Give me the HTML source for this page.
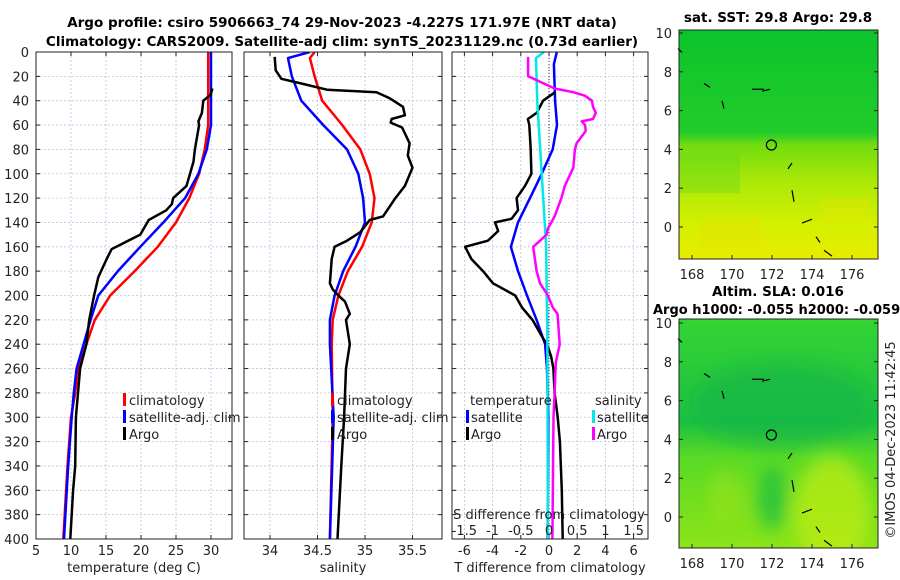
<!DOCTYPE html>
<html><head><meta charset="utf-8"><style>
html,body{margin:0;padding:0;background:#fff;}
svg{display:block;font-family:"DejaVu Sans","Liberation Sans",sans-serif;}
</style></head><body>
<svg id="fig" width="900" height="580" viewBox="0 0 900 580" xmlns="http://www.w3.org/2000/svg">
<defs>
<linearGradient id="sstGrad" x1="0" y1="0" x2="0" y2="1">
<stop offset="0" stop-color="#0cc42c"/><stop offset="0.45" stop-color="#22cc2a"/>
<stop offset="0.5" stop-color="#70dc10"/><stop offset="0.65" stop-color="#a8e808"/>
<stop offset="0.85" stop-color="#d4f000"/><stop offset="1" stop-color="#e8ec00"/></linearGradient>
<linearGradient id="slaGrad" x1="0" y1="0" x2="0" y2="1">
<stop offset="0" stop-color="#34d434"/><stop offset="0.45" stop-color="#1cc040"/>
<stop offset="0.6" stop-color="#58da26"/><stop offset="1" stop-color="#8ce418"/></linearGradient>
<filter id="blur"><feGaussianBlur stdDeviation="8"/></filter>
<clipPath id="c1"><rect x="36" y="52" width="196" height="487"/></clipPath>
<clipPath id="c2"><rect x="244" y="52" width="198" height="487"/></clipPath>
<clipPath id="c3"><rect x="452" y="52" width="196" height="487"/></clipPath>
<clipPath id="cm2"><rect x="679" y="319" width="199" height="229"/></clipPath>
</defs>
<g id="root"></g>
</svg>
<script>
// ---- data (depth in m) ----
const depthsClimT = [0,60,80,100,120,140,160,180,200,220,240,260,280,300,340,400];
const climTemp    = [29.6,29.6,29.1,28.3,26.9,25.0,22.4,19.1,15.6,13.4,12.2,11.0,10.6,10.0,9.5,8.9];
const satTemp     = [30.0,30.0,29.4,28.2,26.3,23.2,19.9,16.7,13.9,12.8,11.8,10.8,10.4,10.1,9.6,9.0];
const argoTDepths = [30,35,40,50,57,60,80,90,100,110,120,125,130,138,150,157,162,170,185,200,220,240,260,280,300,340,360,400];
const argoTemp    = [30.2,29.95,28.9,28.7,28.2,28.3,27.7,27.5,27.0,26.5,24.6,24.4,23.6,21.1,19.9,17.5,15.8,15.1,13.9,13.3,12.6,12.2,11.3,11.0,10.7,10.6,10.3,9.9];
const depthsS     = [0,5,20,40,60,80,100,120,140,160,180,200,220,240,300,400];
const climSal     = [34.47,34.42,34.47,34.55,34.76,34.95,35.05,35.10,35.07,34.97,34.82,34.72,34.66,34.65,34.66,34.63];
const satSal      = [34.42,34.19,34.23,34.33,34.56,34.81,34.93,34.98,35.00,34.90,34.77,34.68,34.63,34.63,34.67,34.63];
const argoSDepths = [4,15,22,27,31,33,38,45,52,55,58,62,75,85,95,110,120,135,138,148,155,160,170,190,195,200,205,215,220,240,260,300,340,400];
const argoSal     = [34.05,34.06,34.12,34.39,34.60,35.12,35.26,35.40,35.42,35.28,35.27,35.39,35.47,35.45,35.50,35.42,35.32,35.19,35.05,34.95,34.81,34.68,34.65,34.63,34.66,34.72,34.79,34.84,34.80,34.84,34.80,34.78,34.75,34.71];
const dDepthsSat  = [0,10,40,60,80,100,120,140,160,180,200,220,240,260,300,400];
const satTDiff    = [0.55,0.35,0.43,0.57,0.26,-0.52,-1.35,-2.2,-2.7,-2.2,-1.56,-0.88,-0.28,-0.14,-0.05,-0.1];
const argoTDDepths= [33,40,50,55,60,80,100,110,120,130,137,140,147,155,160,170,180,190,200,210,220,235,240,250,260,280,300,320,360,400];
const argoTDiff   = [0.43,-0.42,-0.87,-1.5,-1.4,-1.3,-1.25,-1.7,-2.3,-2.2,-2.65,-3.83,-3.6,-4.33,-5.95,-5.5,-4.68,-3.97,-2.4,-1.9,-1.17,-0.43,-0.14,0.15,0.31,0.4,0.62,0.77,0.91,0.97];
const dDepthsSS   = [0,5,40,100,160,200,220,400];
const satSDiff    = [-0.09,-0.23,-0.21,-0.13,-0.05,-0.04,-0.03,-0.02];
const argoSDDepths= [4,20,30,33,36,40,45,50,55,57,60,65,75,80,95,110,120,135,145,150,155,160,170,180,190,200,210,215,240,255,280,300,400];
const argoSDiff   = [-0.37,-0.37,0.1,0.43,0.64,0.76,0.78,0.83,0.78,0.58,0.64,0.65,0.49,0.46,0.43,0.28,0.22,0.1,-0.02,-0.04,-0.16,-0.28,-0.25,-0.22,-0.16,-0.02,0.07,0.15,0.19,0.12,0.1,0.08,0.06];
const depthTicks  = [0,20,40,60,80,100,120,140,160,180,200,220,240,260,280,300,320,340,360,380,400];
const tempTicks   = [5,10,15,20,25,30];
const salTicks    = [34,34.5,35,35.5];
const tdTicks     = [-6,-4,-2,0,2,4,6];
const sdTicks     = [-1.5,-1,-0.5,0,0.5,1,1.5];
const lonTicks    = [168,170,172,174,176];
const latTicks    = [0,2,4,6,8,10];
const argoLon = 171.97, argoLat = 4.227;

const NS="http://www.w3.org/2000/svg";
const root=document.getElementById('root');
function mk(tag,attrs,parent){const e=document.createElementNS(NS,tag);for(const k in attrs)e.setAttribute(k,attrs[k]);(parent||root).appendChild(e);return e;}
function txt(s,x,y,attrs,parent){const e=mk('text',Object.assign({x:x,y:y,'font-size':13,fill:'#222'},attrs||{}),parent);e.textContent=s;return e;}

const yD=d=>52+d*487/400;
const xT=t=>36+(t-5)*7;
const xS=s=>270+(s-34)*95;
const xTD=t=>549+t*14.1;
const xSD=s=>549+s*56.4;

function panel(name,x0,x1,xTicks,xf,label){
  const g=mk('g',{});
  
  
  mk('rect',{x:x0,y:52,width:x1-x0,height:487,fill:'#fff'},g);
  xTicks.forEach(v=>{const x=xf(v);if(x>x0+1&&x<x1-1)mk('line',{x1:x,x2:x,y1:52,y2:539,stroke:'#b8c4e4','stroke-width':0.8,'stroke-dasharray':'2,2'},g);});
  depthTicks.forEach(d=>{if(d>0&&d<400)mk('line',{x1:x0,x2:x1,y1:yD(d),y2:yD(d),stroke:'#b8c4e4','stroke-width':0.8,'stroke-dasharray':'2,2'},g);});
  depthTicks.forEach(d=>{mk('line',{x1:x0,x2:x0+4,y1:yD(d),y2:yD(d),stroke:'#222'},g);mk('line',{x1:x1-4,x2:x1,y1:yD(d),y2:yD(d),stroke:'#222'},g);});
  xTicks.forEach(v=>{const x=xf(v);mk('line',{x1:x,x2:x,y1:539,y2:535,stroke:'#222'},g);mk('line',{x1:x,x2:x,y1:52,y2:56,stroke:'#222'},g);
    const t=txt(String(v),x,555,{'text-anchor':'middle'},g);});
  const lt=txt(label,(x0+x1)/2,572,{'text-anchor':'middle'},g);
  
  return g;
}
function line(xs,ds,xf,color,name,clip){
  const p=xs.map((v,i)=>(i?'L':'M')+xf(v).toFixed(1)+','+yD(ds[i]).toFixed(1)).join('');
  const e=mk('path',{d:p,fill:'none',stroke:color,'stroke-width':2.5,'stroke-linejoin':'round','clip-path':'url(#'+clip+')'});
  
  
  return e;
}
function frame(x0,x1){mk('rect',{x:x0,y:52,width:x1-x0,height:487,fill:'none',stroke:'#222','stroke-width':1});}
function legend(x,items,g){items.forEach((it,i)=>{const y=400+i*17;
  mk('rect',{x:x,y:y-7,width:3,height:13,fill:it[1]},g);
  const t=txt(it[0],x+6,y+5,{},g);});}

panel('temperature-panel',36,232,tempTicks,xT,'temperature (deg C)');
line(climTemp,depthsClimT,xT,'#ff0000','climatology-temp-line','c1');
line(satTemp,depthsClimT,xT,'#0000ff','satellite-temp-line','c1');
line(argoTemp,argoTDepths,xT,'#000','argo-temp-line','c1');
frame(36,232);
depthTicks.forEach(d=>{const t=txt(String(d),29,yD(d)+5,{'text-anchor':'end'});});
const lg1=mk('g',{});
legend(123,[['climatology','#ff0000'],['satellite-adj. clim','#0000ff'],['Argo','#000']],lg1);

panel('salinity-panel',244,442,salTicks,xS,'salinity');
line(climSal,depthsS,xS,'#ff0000','climatology-salinity-line','c2');
line(satSal,depthsS,xS,'#0000ff','satellite-salinity-line','c2');
line(argoSal,argoSDepths,xS,'#000','argo-salinity-line','c2');
frame(244,442);
const lg2=mk('g',{});
legend(331,[['climatology','#ff0000'],['satellite-adj. clim','#0000ff'],['Argo','#000']],lg2);

panel('difference-panel',452,648,tdTicks,xTD,'T difference from climatology');
mk('line',{x1:549,x2:549,y1:52,y2:539,stroke:'#333','stroke-width':1,'stroke-dasharray':'1,2'});
line(satTDiff,dDepthsSat,xTD,'#0000ff','satellite-tdiff-line','c3');
line(argoTDiff,argoTDDepths,xTD,'#000','argo-tdiff-line','c3');
line(satSDiff,dDepthsSS,xSD,'#00e8e8','satellite-sdiff-line','c3');
line(argoSDiff,argoSDDepths,xSD,'#ff00ff','argo-sdiff-line','c3');
frame(452,648);
const lg3=mk('g',{});
txt('temperature',470,405,{},lg3);txt('salinity',595,405,{},lg3);
[['satellite','#0000ff',466],['Argo','#000',466],['satellite','#00e8e8',592],['Argo','#ff00ff',592]].forEach((it,i)=>{
  const y=417+(i%2)*17;mk('rect',{x:it[2],y:y-7,width:3,height:13,fill:it[1]},lg3);
  const t=txt(it[0],it[2]+5,y+5,{},lg3);});
const sl=txt('S difference from climatology',549,519,{'text-anchor':'middle'});

sdTicks.forEach(v=>{const t=txt(String(v),xSD(v),535,{'text-anchor':'middle'});});

const t1=txt('Argo profile: csiro 5906663_74 29-Nov-2023 -4.227S 171.97E (NRT data)',342,27,{'text-anchor':'middle','font-weight':'bold','font-size':13.5,fill:'#000'});

const t2=txt('Climatology: CARS2009. Satellite-adj clim: synTS_20231129.nc (0.73d earlier)',342,46,{'text-anchor':'middle','font-weight':'bold','font-size':13.5,fill:'#000'});


function map(name,y0,lat0y,grad,extra){
  const g=mk('g',{});
  
  
  const xL=l=>692+(l-168)*20, yL=l=>lat0y-l*19.4;
  mk('rect',{x:679,y:y0,width:199,height:229,fill:'url(#'+grad+')'},g);
  extra(g,xL,yL);
  [[171,7.1,171.6,7.1],[171.5,7,171.9,7.1],[172.8,3,173,3.3],[173,1.9,173.1,1.3],[173.5,0.2,174,0.4],[174.2,-0.5,174.4,-0.8],[174.6,-1.2,175,-1.5],[168.6,7.4,168.9,7.2],[169.5,6.5,169.6,6.1],[167.3,9.2,167.5,9]].forEach(c=>{
    mk('line',{x1:xL(c[0]),y1:yL(c[1]),x2:xL(c[2]),y2:yL(c[3]),stroke:'#000','stroke-width':1.2},g);});
  mk('circle',{cx:xL(argoLon),cy:yL(argoLat),r:5,fill:'none',stroke:'#000','stroke-width':1.2},g);
  mk('rect',{x:679,y:y0,width:199,height:229,fill:'none',stroke:'#222'},g);
  lonTicks.forEach(v=>{mk('line',{x1:xL(v),x2:xL(v),y1:y0+229,y2:y0+225,stroke:'#222'},g);
    const t=txt(String(v),xL(v),y0+249,{'text-anchor':'middle'},g);});
  latTicks.forEach(v=>{mk('line',{x1:679,x2:683,y1:yL(v),y2:yL(v),stroke:'#222'},g);mk('line',{x1:874,x2:878,y1:yL(v),y2:yL(v),stroke:'#222'},g);
    const t=txt(String(v),672,yL(v)+5,{'text-anchor':'end'},g);});
}
map('sst-map',30,227,'sstGrad',(g,xL,yL)=>{
  mk('rect',{x:700,y:yL(0.5),width:60,height:30,fill:'#e8e000',opacity:0.35},g);
  mk('rect',{x:820,y:yL(1.5),width:50,height:25,fill:'#e4e400',opacity:0.35},g);
  mk('rect',{x:680,y:yL(3.8),width:60,height:40,fill:'#60d820',opacity:0.35},g);
});
map('sla-map',319,517,'slaGrad',(g,xL,yL)=>{
  const b=mk('g',{filter:'url(#blur)','clip-path':'url(#cm2)'},g);
  mk('ellipse',{cx:xL(172.5),cy:yL(5.8),rx:90,ry:42,fill:'#14b448',opacity:0.6},b);
  mk('ellipse',{cx:xL(172),cy:yL(1),rx:14,ry:32,fill:'#20c040',opacity:0.8},b);
  mk('ellipse',{cx:xL(175),cy:yL(0.3),rx:38,ry:55,fill:'#c0ec10',opacity:0.7},b);
  mk('ellipse',{cx:xL(169.7),cy:yL(1),rx:18,ry:28,fill:'#a0e418',opacity:0.5},b);
});
const m1=txt('sat. SST: 29.8 Argo: 29.8',778,22,{'text-anchor':'middle','font-weight':'bold','font-size':13.5,fill:'#000'});

const m2=txt('Altim. SLA: 0.016',778,296,{'text-anchor':'middle','font-weight':'bold','font-size':13.5,fill:'#000'});

const m3=txt('Argo h1000: -0.055 h2000: -0.059',653,314,{'font-weight':'bold','font-size':13,fill:'#000'});

const cr=txt('©IMOS 04-Dec-2023 11:42:45',0,0,{'text-anchor':'middle',transform:'translate(895,440) rotate(-90)'});

</script>
</body></html>
